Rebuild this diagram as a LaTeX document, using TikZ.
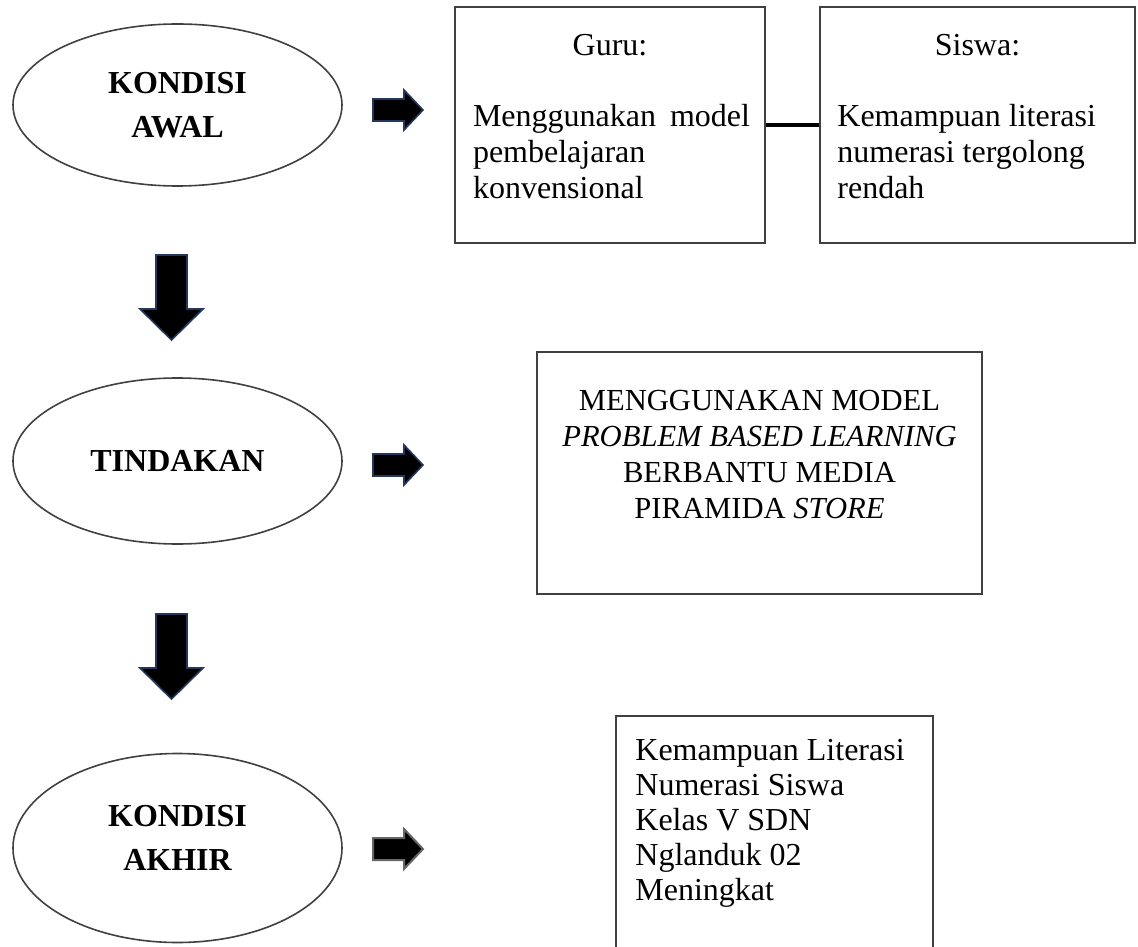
\documentclass[tikz,border=0pt]{standalone}
\usepackage{fontspec}
\setmainfont{Liberation Serif}
\usepackage{xcolor}
\usetikzlibrary{shapes.geometric, positioning}

\definecolor{arrowedge}{RGB}{36,56,94}
\definecolor{lineedge}{RGB}{64,64,64}

\begin{document}
\begin{tikzpicture}[x=0.5pt, y=-0.5pt,
    oval/.style={ellipse, draw=lineedge, line width=0.8pt, minimum width=164.5pt,
        inner sep=0pt, align=center, font=\fontsize{16}{22}\selectfont\bfseries},
    box/.style={rectangle, draw=lineedge, line width=0.8pt, inner sep=0pt},
    txt/.style={inner sep=0pt, font=\fontsize{16}{18}\selectfont},
    rarrow/.pic={\filldraw[pic actions] (0,-11) -- (31,-11) -- (31,-20) -- (50,0)
        -- (31,20) -- (31,11) -- (0,11) -- cycle;},
    darrow/.pic={\filldraw[pic actions] (-15.5,0) -- (15.5,0) -- (15.5,54) -- (31.5,54)
        -- (0,85) -- (-31.5,54) -- (-15.5,54) -- cycle;}]
    \useasboundingbox (0,0) rectangle (1138,946);

    % kolom kiri
    \node[oval, minimum height=81pt] (awal) at (177.5,105) {KONDISI\\AWAL};
    \node[oval, minimum height=83pt] (tindakan) at (177.5,461) {TINDAKAN};
    \node[oval, minimum height=94.5pt] (akhir) at (177.5,848) {};
    \node[font=\fontsize{16}{22}\selectfont\bfseries, align=center, inner sep=0pt]
        (akhirtext) at (177.5,838) {KONDISI\\AKHIR};

    \pic[draw=arrowedge, fill=black, line width=0.8pt] (turun1) at (171.5,255) {darrow};
    \pic[draw=arrowedge, fill=black, line width=0.8pt] (turun2) at (171.5,614) {darrow};

    \pic[draw=arrowedge, fill=black, line width=0.8pt] (kanan1) at (373,110) {rarrow};
    \pic[draw=arrowedge, fill=black, line width=0.8pt] (kanan2) at (373,465) {rarrow};
    \pic[draw=black!60, fill=black, line width=1pt] (kanan3) at (373,849) {rarrow};

    % kondisi awal
    \node[box, minimum width=155pt, minimum height=118pt] (guru) at (610,125) {};
    \node[box, minimum width=157.5pt, minimum height=118pt] (siswa) at (977.5,125) {};
    \draw[line width=2pt] (guru.east) -- (siswa.west);

    \node[txt] (gurutitle) at (610,45) {Guru:};
    \node[txt, text width=138.5pt, align=left] (gurutext) at (611.5,152)
        {Menggunakan\hfill model\\pembelajaran\\konvensional};
    \node[txt] (siswatitle) at (977.5,45) {Siswa:};
    \node[txt, anchor=west, align=left] (siswatext) at (837,152)
        {Kemampuan literasi\\numerasi tergolong\\rendah};

    % tindakan
    \node[box, minimum width=222.5pt, minimum height=121pt] (model) at (759.5,473) {};
    \node[txt, align=center, font=\fontsize{15.3}{18}\selectfont] (modeltext) at (759.5,455)
        {MENGGUNAKAN MODEL\\\textit{PROBLEM BASED LEARNING}\\BERBANTU MEDIA\\PIRAMIDA \textit{STORE}};

    % kondisi akhir
    \node[box, minimum width=158.5pt, minimum height=122pt] (hasil) at (774.5,838) {};
    \node[txt, anchor=west, align=left, font=\fontsize{16}{17.5}\selectfont] (hasiltext) at (635,823)
        {Kemampuan Literasi\\Numerasi Siswa\\Kelas V SDN\\Nglanduk 02\\Meningkat};
\end{tikzpicture}
\end{document}
